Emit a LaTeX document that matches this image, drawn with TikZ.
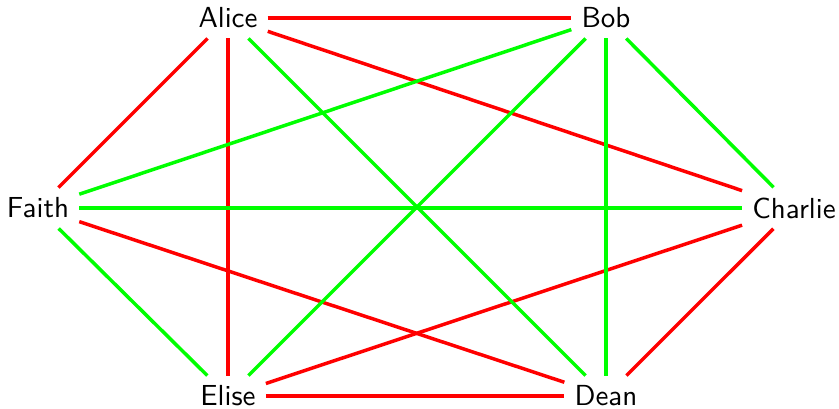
\documentclass[tikz,border=0pt]{standalone}
\usepackage{tikz}
\usetikzlibrary{positioning}

\begin{document}
\begin{tikzpicture}[
    x=0.01212cm, y=-0.01212cm,
    person node/.style={font=\sffamily},
    red edge/.style={draw=red, line width=1.2pt},
    green edge/.style={draw=green, line width=1.2pt}
]
  \useasboundingbox (0,0) rectangle (839,408);

  \node[person node] (alice) at (228,18) {Alice};
  \node[person node] (bob) at (606,18) {Bob};
  \node[person node] (charlie) at (794,208) {Charlie};
  \node[person node] (dean) at (606,396) {Dean};
  \node[person node] (elise) at (228,396) {Elise};
  \node[person node] (faith) at (38,208) {Faith};

  \draw[red edge] (alice) -- (bob);
  \draw[red edge] (alice) -- (charlie);
  \draw[red edge] (alice) -- (elise);
  \draw[red edge] (faith) -- (alice);
  \draw[red edge] (faith) -- (dean);
  \draw[red edge] (elise) -- (dean);
  \draw[red edge] (elise) -- (charlie);
  \draw[red edge] (charlie) -- (dean);

  \draw[green edge] (alice) -- (dean);
  \draw[green edge] (bob) -- (faith);
  \draw[green edge] (bob) -- (elise);
  \draw[green edge] (bob) -- (dean);
  \draw[green edge] (bob) -- (charlie);
  \draw[green edge] (faith) -- (charlie);
  \draw[green edge] (faith) -- (elise);
\end{tikzpicture}
\end{document}
